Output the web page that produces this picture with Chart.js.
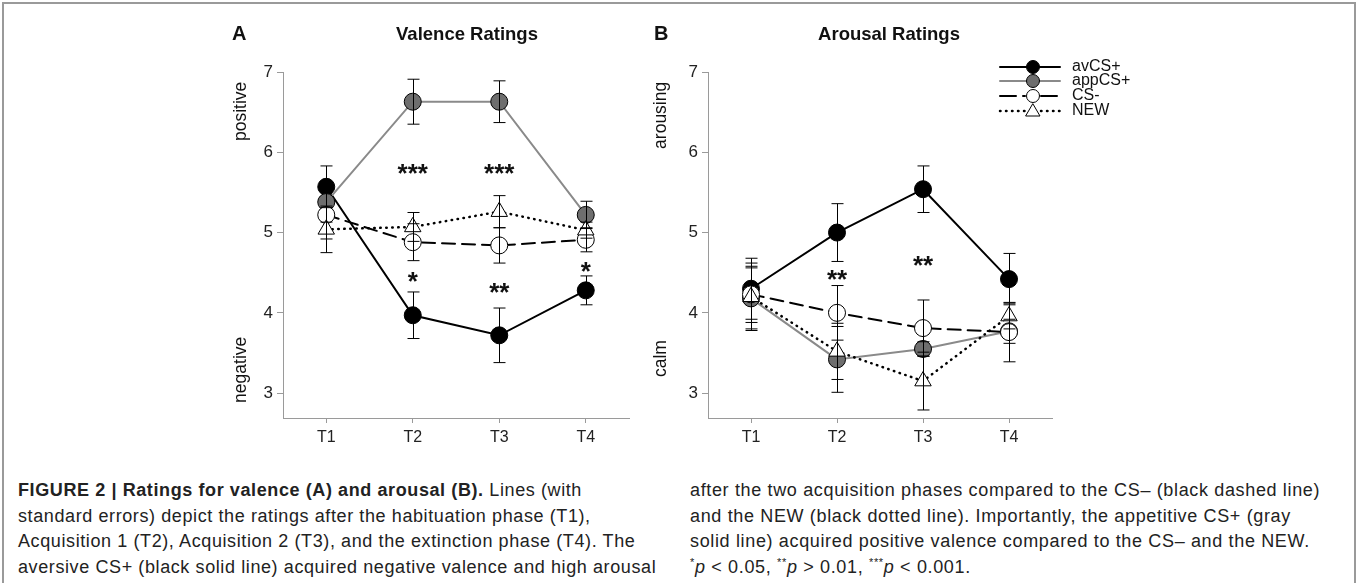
<!DOCTYPE html>
<html>
<head>
<meta charset="utf-8">
<script src="https://cdn.jsdelivr.net/npm/chart.js@4.4.1/dist/chart.umd.min.js"></script>
<style>
    body { margin: 0; background: #fff; font-family: "Liberation Sans", Arial, sans-serif; }
    #page { position: relative; width: 1357px; height: 583px; overflow: hidden; }
    #frame { position: absolute; left: 2px; top: 2px; width: 1350px; height: 620px; border: 2px solid #9a9a9a; }
    canvas { position: absolute; top: 0; }
    .panel { position: absolute; font-weight: bold; font-size: 20px; color: #111; }
    .title { position: absolute; font-weight: bold; font-size: 18.5px; color: #111; transform: translateX(-50%); white-space: nowrap; }
    .caption { position: absolute; top: 478px; font-size: 18px; line-height: 25.5px; color: #222; white-space: nowrap; }
    .caption div { height: 25.5px; }
    .caption sup { font-size: 11px; line-height: 0; vertical-align: 0; position: relative; top: -7px; }
</style>
</head>
<body>
<div id="page">
    <div id="frame"></div>
    <canvas id="valenceChart" width="440" height="465" style="left:200px"></canvas>
    <canvas id="arousalChart" width="520" height="465" style="left:640px"></canvas>

    <div class="panel" style="left:232px; top:22px">A</div>
    <div class="title" style="left:467px; top:23px">Valence Ratings</div>
    <div class="panel" style="left:654px; top:22px">B</div>
    <div class="title" style="left:889px; top:23px">Arousal Ratings</div>

    <div class="caption" style="left:18px; letter-spacing:0.6px">
        <div><b>FIGURE 2 | Ratings for valence (A) and arousal (B).</b> Lines (with</div>
        <div>standard errors) depict the ratings after the habituation phase (T1),</div>
        <div>Acquisition 1 (T2), Acquisition 2 (T3), and the extinction phase (T4). The</div>
        <div>aversive CS+ (black solid line) acquired negative valence and high arousal</div>
    </div>
    <div class="caption" style="left:690px; letter-spacing:0.65px">
        <div>after the two acquisition phases compared to the CS– (black dashed line)</div>
        <div>and the NEW (black dotted line). Importantly, the appetitive CS+ (gray</div>
        <div>solid line) acquired positive valence compared to the CS– and the NEW.</div>
        <div><sup>*</sup><i>p</i> &lt; 0.05, <sup>**</sup><i>p</i> &gt; 0.01, <sup>***</sup><i>p</i> &lt; 0.001.</div>
    </div>
</div>

<script>
const timepoints = ['T1', 'T2', 'T3', 'T4'];
const seriesNames = ['avCS+', 'appCS+', 'CS-', 'NEW'];
const yTicks = [3, 4, 5, 6, 7];

// Valence ratings (means and standard errors)
const valAvCS = [5.57, 3.97, 3.72, 4.28];
const valAvCSErr = [0.26, 0.29, 0.34, 0.18];
const valAppCS = [5.38, 6.63, 6.63, 5.22];
const valAppCSErr = [0.25, 0.28, 0.26, 0.17];
const valCSminus = [5.22, 4.88, 4.84, 4.91];
const valCSminusErr = [0.30, 0.23, 0.22, 0.15];
const valNew = [5.04, 5.07, 5.26, 5.03];
const valNewErr = [0.29, 0.18, 0.20, 0.10];

// Arousal ratings (means and standard errors)
const aroAvCS = [4.30, 5.00, 5.54, 4.42];
const aroAvCSErr = [0.38, 0.36, 0.29, 0.32];
const aroAppCS = [4.18, 3.42, 3.55, 3.77];
const aroAppCSErr = [0.38, 0.41, 0.09, 0.15];
const aroCSminus = [4.23, 4.00, 3.81, 3.76];
const aroCSminusErr = [0.35, 0.34, 0.35, 0.37];
const aroNew = [4.20, 3.52, 3.15, 3.96];
const aroNewErr = [0.42, 0.35, 0.36, 0.16];

// Significance markers: category, value, text
const starsValence = [['T2', 5.77, '***'], ['T3', 5.77, '***'], ['T2', 4.42, '*'], ['T3', 4.29, '**'], ['T4', 4.55, '*']];
const starsArousal = [['T2', 4.45, '**'], ['T3', 4.62, '**']];

// Axis side labels: text, value at centre
const sideValence = [['positive', 6.51], ['negative', 3.29]];
const sideArousal = [['arousing', 6.46], ['calm', 3.43]];

Chart.defaults.font.family = '"Liberation Sans", Arial, sans-serif';
Chart.defaults.color = '#222';

const styles = [
    { borderColor: '#000', borderWidth: 2, borderDash: [], pointStyle: 'circle', pointRadius: 8.5, fill: '#000' },
    { borderColor: '#8a8a8a', borderWidth: 2, borderDash: [], pointStyle: 'circle', pointRadius: 8.5, fill: '#6e6e6e' },
    { borderColor: '#000', borderWidth: 2, borderDash: [13, 7], pointStyle: 'circle', pointRadius: 8.5, fill: '#fff' },
    { borderColor: '#000', borderWidth: 2.5, borderDash: [0.5, 5.5], pointStyle: 'triangle', pointRadius: 9.5, fill: '#fff' }
];

function makeDatasets(values, errors) {
    return values.map((v, i) => ({
        label: seriesNames[i],
        data: v,
        errors: errors[i],
        borderColor: styles[i].borderColor,
        borderWidth: styles[i].borderWidth,
        borderDash: styles[i].borderDash,
        borderCapStyle: 'round',
        pointStyle: styles[i].pointStyle,
        pointRadius: styles[i].pointRadius,
        pointHoverRadius: styles[i].pointRadius,
        pointBackgroundColor: styles[i].fill,
        pointBorderColor: '#000',
        pointBorderWidth: 1,
        tension: 0,
        fill: false
    })).reverse();
}

const errorBars = {
    id: 'errorBars',
    afterDatasetsDraw(chart) {
        const ctx = chart.ctx;
        const xs = chart.scales.x, ys = chart.scales.y;
        ctx.save();
        ctx.strokeStyle = '#000';
        ctx.lineWidth = 1;
        chart.data.datasets.forEach(ds => {
            ds.data.forEach((v, i) => {
                const px = Math.round(xs.getPixelForValue(i)) + 0.5;
                const top = ys.getPixelForValue(v + ds.errors[i]);
                const bot = ys.getPixelForValue(v - ds.errors[i]);
                ctx.beginPath();
                ctx.moveTo(px, top); ctx.lineTo(px, bot);
                ctx.moveTo(px - 6, top); ctx.lineTo(px + 6, top);
                ctx.moveTo(px - 6, bot); ctx.lineTo(px + 6, bot);
                ctx.stroke();
            });
        });
        ctx.restore();
    }
};

const extras = {
    id: 'extras',
    afterDraw(chart, args, opts) {
        const ctx = chart.ctx;
        const xs = chart.scales.x, ys = chart.scales.y;
        ctx.save();
        ctx.fillStyle = '#111';
        ctx.textAlign = 'center';
        ctx.font = 'bold 26px "Liberation Sans", Arial, sans-serif';
        ctx.textBaseline = 'alphabetic';
        opts.stars.forEach(s => {
            const px = xs.getPixelForValue(timepoints.indexOf(s[0]));
            ctx.fillText(s[2], px, ys.getPixelForValue(s[1]) + 11);
        });
        ctx.font = '17.5px "Liberation Sans", Arial, sans-serif';
        ctx.textBaseline = 'middle';
        opts.side.forEach(s => {
            ctx.save();
            ctx.translate(opts.sideX, ys.getPixelForValue(s[1]));
            ctx.rotate(-Math.PI / 2);
            ctx.fillText(s[0], 0, 0);
            ctx.restore();
        });
        ctx.restore();
    }
};

const legendBox = {
    id: 'legendBox',
    afterDraw(chart, args, opts) {
        if (!opts.show) return;
        const ctx = chart.ctx;
        const x0 = 360, x1 = 420, mx = 393, tx = 432;
        const rows = [67, 81, 96, 111];
        ctx.save();
        seriesNames.forEach((name, i) => {
            const st = styles[i];
            const y = rows[i];
            ctx.strokeStyle = st.borderColor;
            ctx.lineWidth = st.borderWidth;
            ctx.lineCap = 'round';
            ctx.setLineDash(i === 2 ? [16, 7] : st.borderDash);
            ctx.beginPath();
            if (i < 2) {
                ctx.moveTo(x0, y); ctx.lineTo(x1, y);
            } else {
                ctx.moveTo(x0, y); ctx.lineTo(mx - 8, y);
                ctx.moveTo(mx + 8, y); ctx.lineTo(x1, y);
            }
            ctx.stroke();
            ctx.setLineDash([]);
            ctx.lineWidth = 1;
            ctx.strokeStyle = '#000';
            ctx.fillStyle = st.fill;
            ctx.beginPath();
            if (st.pointStyle === 'triangle') {
                ctx.moveTo(mx, y - 7); ctx.lineTo(mx + 7, y + 5); ctx.lineTo(mx - 7, y + 5); ctx.closePath();
            } else {
                ctx.arc(mx, y, 6.5, 0, Math.PI * 2);
            }
            ctx.fill();
            ctx.stroke();
            ctx.fillStyle = '#111';
            ctx.font = '16px "Liberation Sans", Arial, sans-serif';
            ctx.textAlign = 'left';
            ctx.textBaseline = 'middle';
            ctx.fillText(name, tx, y);
        });
        ctx.restore();
    }
};

function buildChart(canvasId, values, errors, yAxisWidth, rightPad, stars, side, sideX, showLegend) {
    const ctx = document.getElementById(canvasId).getContext('2d');
    return new Chart(ctx, {
        type: 'line',
        data: { labels: timepoints, datasets: makeDatasets(values, errors) },
        plugins: [errorBars, extras, legendBox],
        options: {
            responsive: false,
            animation: false,
            layout: { padding: { left: 0, right: rightPad, top: 72, bottom: 0 } },
            plugins: {
                legend: { display: false },
                tooltip: { enabled: false },
                extras: { stars: stars, side: side, sideX: sideX },
                legendBox: { show: showLegend }
            },
            scales: {
                x: {
                    type: 'category',
                    offset: true,
                    grid: { display: true, drawOnChartArea: false, drawTicks: true, tickLength: 5, color: '#9a9a9a', offset: false },
                    border: { display: true, color: '#9a9a9a', width: 1 },
                    ticks: { font: { size: 16 }, padding: 5, color: '#222' },
                    afterFit: scale => { scale.height = 47; }
                },
                y: {
                    type: 'linear',
                    min: 2.69,
                    max: 7,
                    afterBuildTicks: axis => { axis.ticks = yTicks.map(v => ({ value: v })); },
                    grid: { display: true, drawOnChartArea: false, drawTicks: true, tickLength: 6, color: '#9a9a9a' },
                    border: { display: true, color: '#9a9a9a', width: 1 },
                    ticks: { font: { size: 17 }, padding: 4, color: '#222' },
                    afterFit: scale => { scale.width = yAxisWidth; }
                }
            }
        }
    });
}

document.addEventListener('DOMContentLoaded', function() {
    buildChart('valenceChart',
        [valAvCS, valAppCS, valCSminus, valNew],
        [valAvCSErr, valAppCSErr, valCSminusErr, valNewErr],
        83, 11, starsValence, sideValence, 41, false);
    buildChart('arousalChart',
        [aroAvCS, aroAppCS, aroCSminus, aroNew],
        [aroAvCSErr, aroAppCSErr, aroCSminusErr, aroNewErr],
        68, 108, starsArousal, sideArousal, 21, true);
});
</script>
</body>
</html>
